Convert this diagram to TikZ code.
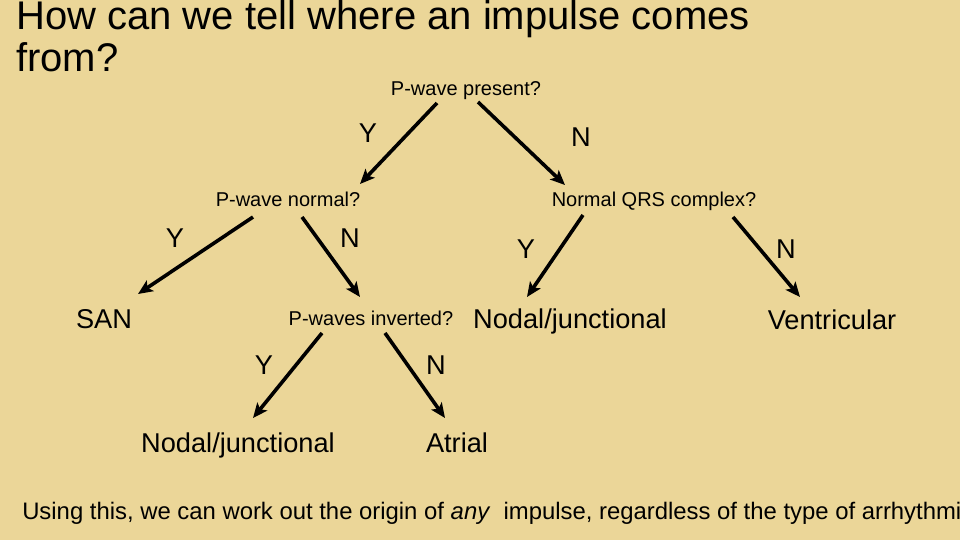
\documentclass[tikz,border=0pt]{standalone}
\usepackage{fontspec}
\setmainfont{Liberation Sans}
\usetikzlibrary{arrows.meta,calc}
\definecolor{parchment}{RGB}{235,214,152}

\begin{document}
\begin{tikzpicture}[x=0.75pt, y=-0.75pt,
                    question/.style={anchor=base, inner sep=0pt, font=\fontsize{15}{18}\selectfont},
                    outcome/.style={anchor=base, inner sep=0pt, font=\fontsize{20.4}{24}\selectfont},
                    yn/.style={anchor=base, inner sep=0pt, font=\fontsize{20.4}{24}\selectfont},
                    arr/.style={-{Stealth[length=11pt, width=9.5pt, inset=2.5pt]}, line width=2.7pt}
                ]
                \useasboundingbox (0,0) rectangle (960,540);
                \fill[parchment] (0,0) rectangle (960,540);
                \clip (0,0) rectangle (960,540);

                % titre
                \node[anchor=north west, inner sep=0pt, align=left, font=\fontsize{30}{31.5}\selectfont] (title) at (16,0.5) {How can we tell where an impulse comes\\from?};

                % questions
                \node[question] (pres) at (466,95) {P-wave present?};
                \node[question] (norm) at (288,206) {P-wave normal?};
                \node[question] (qrs) at (654,206) {Normal QRS complex?};
                \node[question] (inv) at (371,325) {P-waves inverted?};

                % origines
                \node[outcome] (san) at (104,328) {SAN};
                \node[outcome] (nodal) at (570,328) {Nodal/junctional};
                \node[outcome] (vent) at (832,329) {Ventricular};
                \node[outcome] (nodalb) at (238,452) {Nodal/junctional};
                \node[outcome] (atrial) at (457,452) {Atrial};

                % reponses
                \node[yn] (y1) at (368,142) {Y};
                \node[yn] (n1) at (581,146) {N};
                \node[yn] (y2) at (175,247) {Y};
                \node[yn] (n2) at (350,247) {N};
                \node[yn] (y3) at (526,258) {Y};
                \node[yn] (n3) at (786,258) {N};
                \node[yn] (y4) at (264,374) {Y};
                \node[yn] (n4) at (436,374) {N};

                % fleches
                \draw[arr] ($(pres.base)+(-29,8)$) -- ($(norm.base)+(72,-22)$);
                \draw[arr] ($(pres.base)+(12,7)$) -- ($(qrs.base)+(-89,-21)$);
                \draw[arr] ($(norm.base)+(-35,11)$) -- ($(san.base)+(34,-34)$);
                \draw[arr] ($(norm.base)+(14,11)$) -- ($(inv.base)+(-11,-28)$);
                \draw[arr] ($(qrs.base)+(-71,9)$) -- ($(nodal.base)+(-43,-31)$);
                \draw[arr] ($(qrs.base)+(79,11)$) -- ($(vent.base)+(-32,-32)$);
                \draw[arr] ($(inv.base)+(-49,8)$) -- ($(nodalb.base)+(15,-34)$);
                \draw[arr] ($(inv.base)+(14,8)$) -- ($(atrial.base)+(-12,-34)$);

                \node[anchor=base west, inner sep=0pt, font=\fontsize{17.9}{21}\selectfont] (note) at (22,519) {Using this, we can work out the origin of \textit{any}\ \ impulse, regardless of the type of arrhythmia};
\end{tikzpicture}
\end{document}
